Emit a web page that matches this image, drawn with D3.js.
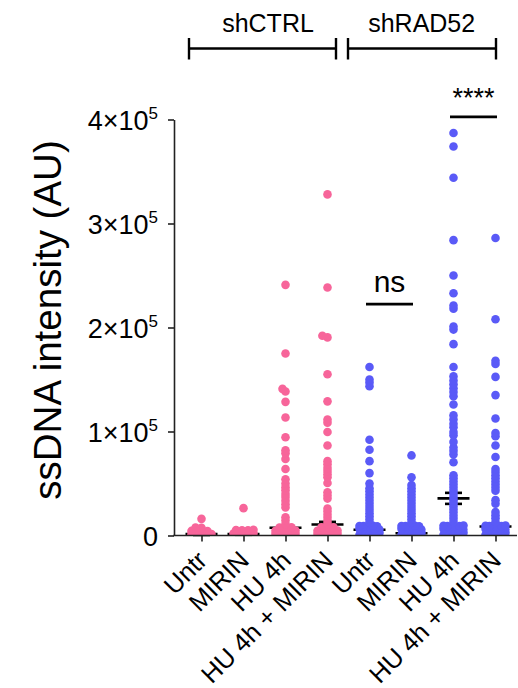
<!DOCTYPE html>
<html><head><meta charset="utf-8">
<script src="https://cdn.jsdelivr.net/npm/d3@7"></script>
<style>
body{margin:0;background:#fff}
svg{display:block}
text{font-family:"Liberation Sans",Arial,Helvetica,sans-serif;fill:#000}
</style>
</head><body>
<svg id="chart" width="518" height="688"></svg>
<script>
// ---------- data ----------
const categories = ["Untr","MIRIN","HU 4h","HU 4h + MIRIN","Untr","MIRIN","HU 4h","HU 4h + MIRIN"];
const groupNames = ["shCTRL","shRAD52"];
const groupOfCategory = [0,0,0,0,1,1,1,1];
const yTickValues = [0,100000,200000,300000,400000];
const yTickBase = ["0","1×10","2×10","3×10","4×10"];
const yTickExp  = ["","5","5","5","5"];
const yTitle = "ssDNA intensity (AU)";

// values in thousands (AU × 10^3)
const shCTRL_Untr_k = [16,7.6,7.3,4.4,4.2,4.0,3.8,1.4,1.2,1.0,0.8,0.6];
const shCTRL_MIRIN_k = [26.3,5.5,5.3,5.1,4.9,2.4,2.2,2.0,1.8,1.6,0.5,0.3];
const shCTRL_HU_k = [241,175,141,138.5,128.5,113.5,94.5,82,79,73.5,64,54,50,46.5,43.5,40,37,33.5,30,27,17.5,14.5,11,7.8,7.6,7.4,4.8,4.6,4.4,4.2,4.0,1.8,1.6,1.4,1.2,1.0];
const shCTRL_HU_MIRIN_k = [328,238.5,192,190.5,155,129,111.5,108.5,99.5,86.5,71.5,68.5,65,62,59,56,50.5,41.5,38.5,35.5,26,23,20,17,14,11,8,7.8,7.6,4.8,4.6,4.4,4.2,4.0,1.8,1.6,1.4,1.2,1.0];
const shRAD52_Untr_k = [162,150,147,143.5,92,82.5,71.5,60,50,45.5,42.5,39.5,36.5,33.5,30.5,27.5,24.5,21.5,18.5,15.5,12.5,9.4,9.2,9.0,8.8,8.6,6.4,6.2,6.0,5.8,5.6,3.4,3.2,3.0,2.8,2.6,0.8,0.6,0.4,0.2];
const shRAD52_MIRIN_k = [77,56,48.5,45.5,42.5,39.5,36.5,33.5,30.5,27.5,24.5,21.5,18.5,15.5,12.5,9.4,9.2,9.0,8.8,8.6,6.4,6.2,6.0,5.8,5.6,3.4,3.2,3.0,2.8,2.6,0.8,0.6,0.4,0.2];
const shRAD52_HU_k = [387,374,344,284,250,233,221,218,201,198,184,162,153,149,145.5,141.5,138,134,126,115.5,111.5,107.5,104,99.5,96.5,90,84.5,81.5,78,70.5,58,55,52,49,46,43,40,37,34,31,28,25,22,19,16,13,9.6,9.4,9.2,9.0,8.8,6.4,6.2,6.0,5.8,5.6,3.4,3.2,3.0,2.8,2.6,0.8,0.6,0.4,0.2];
const shRAD52_HU_MIRIN_k = [286,208,168,165,152.5,135,112.5,98.5,95.5,86.5,75.5,64,61,58,55,52,49,46,43,34,30.5,22.5,19.5,16.5,13,9.6,9.4,9.2,9.0,8.8,6.4,6.2,6.0,5.8,5.6,3.4,3.2,3.0,2.8,2.6,0.8,0.6,0.4,0.2];
const seriesValues_k = [shCTRL_Untr_k,shCTRL_MIRIN_k,shCTRL_HU_k,shCTRL_HU_MIRIN_k,shRAD52_Untr_k,shRAD52_MIRIN_k,shRAD52_HU_k,shRAD52_HU_MIRIN_k];

// summary line (centre) and error (k)
const centre_k = [1.5,1.5,7.4,10.6,5.5,2.2,35.7,8.7];
const error_k  = [1,0.8,1.5,2.5,1.2,0.8,5.3,2.5];

// significance annotations
const sigLabels = ["ns","****"];
const sigPairs = [[4,5],[6,7]];
const sigLevel_k = [222.5,402.5];

// ---------- layout ----------
const svg = d3.select("#chart");
const colors = ["#F7659A","#5A5AF7"];
const y = d3.scaleLinear().domain([0,400000]).range([535.5,119.5]);
const x = d3.scalePoint().domain(d3.range(categories.length)).range([201.5,495.5]);
const axisX0 = 174, axisX1 = 517;
const R = 4.3;

svg.append("defs").append("clipPath").attr("id","plotclip")
  .append("rect").attr("x",axisX0).attr("y",0).attr("width",518-axisX0).attr("height",y(0)-0.2);

// column-scatter placement (anisotropic collision)
function swarm(vals, Dx, Dy, maxW){
  const pts = vals.map(v=>({v, py:y(v*1000)})).sort((a,b)=>b.py-a.py);
  const placed=[];
  const dist=(q,c,p)=>Math.hypot((q.dx-c)/Dx,(q.py-p.py)/Dy);
  for(const p of pts){
    const cands=[0];
    for(const q of placed){
      const t=Math.abs(q.py-p.py)/Dy;
      if(t<1){const dx=Dx*Math.sqrt(1-t*t); cands.push(q.dx+dx,q.dx-dx);}
    }
    cands.sort((a,b)=>Math.abs(a)-Math.abs(b)||a-b);
    let best=null;
    for(const c of cands){
      if(Math.abs(c)>maxW+1e-9) continue;
      if(placed.every(q=>dist(q,c,p)>=1-1e-6)){best=c;break;}
    }
    if(best===null){
      let score=-1;
      for(let c=-maxW;c<=maxW+1e-9;c+=0.5){
        const m=d3.min(placed,q=>dist(q,c,p));
        if(m>score+1e-9){score=m;best=c;}
      }
    }
    p.dx=best; placed.push(p);
  }
  return placed;
}

// summary lines (under points)
const summ = svg.append("g").attr("stroke","#000").attr("stroke-width",2.6).attr("fill","none");
categories.forEach((c,i)=>{
  const cx=x(i), c0=centre_k[i]*1000, e=error_k[i]*1000;
  summ.append("line").attr("x1",cx).attr("x2",cx).attr("y1",y(c0-e)).attr("y2",y(c0+e));
  summ.append("line").attr("x1",cx-8.5).attr("x2",cx+8.5).attr("y1",y(c0-e)).attr("y2",y(c0-e));
  summ.append("line").attr("x1",cx-8.5).attr("x2",cx+8.5).attr("y1",y(c0+e)).attr("y2",y(c0+e));
  summ.append("line").attr("x1",cx-16).attr("x2",cx+16).attr("y1",y(c0)).attr("y2",y(c0));
});

// points
const ptsG = svg.append("g").attr("clip-path","url(#plotclip)");
seriesValues_k.forEach((vals,i)=>{
  const placed = swarm(vals,6,3,10);
  ptsG.selectAll(null).data(placed).enter().append("circle")
    .attr("cx",d=>x(i)+d.dx).attr("cy",d=>d.py).attr("r",R)
    .attr("fill",colors[groupOfCategory[i]]);
});

// y axis
const yAxis = svg.append("g").attr("transform",`translate(${axisX0},0)`)
  .call(d3.axisLeft(y).tickValues(yTickValues).tickSize(6).tickSizeOuter(0).tickPadding(10).tickFormat(()=>""));
yAxis.select(".domain").attr("stroke","#222").attr("stroke-width",1.6);
yAxis.selectAll(".tick line").attr("stroke","#222").attr("stroke-width",1.6);
yAxis.selectAll(".tick text").each(function(d,i){
  const t=d3.select(this).attr("font-size",27).attr("dy","0.36em").attr("font-family",null);
  t.text(null);
  t.append("tspan").text(yTickBase[i]);
  if(yTickExp[i]) t.append("tspan").attr("font-size",17).attr("dy","-0.62em").text(yTickExp[i]);
});

// x axis
const xAxis = svg.append("g").attr("transform",`translate(0,${y(0)})`)
  .call(d3.axisBottom(x).tickSize(6).tickSizeOuter(0).tickFormat(()=>""));
xAxis.select(".domain").remove();
xAxis.selectAll(".tick line").attr("stroke","#222").attr("stroke-width",1.6);
xAxis.append("line").attr("x1",axisX0-0.8).attr("x2",axisX1).attr("y1",0).attr("y2",0)
  .attr("stroke","#222").attr("stroke-width",1.6);
svg.append("g").selectAll("text").data(categories).enter().append("text")
  .attr("transform",(d,i)=>`translate(${x(i)+7},${y(0)+26.5}) rotate(-45)`)
  .attr("text-anchor","end").attr("font-size",25.5).text(d=>d);

// y title
svg.append("text").attr("transform","translate(61,320) rotate(-90)")
  .attr("text-anchor","middle").attr("font-size",38.5).text(yTitle);

// group brackets
const bracketOffsets = [[-12.5,8.5],[-21.5,0.5]];
const groupLabelCx = [268,421.7];
groupNames.forEach((g,gi)=>{
  const idx = d3.range(categories.length).filter(i=>groupOfCategory[i]===gi);
  const x0 = x(idx[0])+bracketOffsets[gi][0], x1 = x(idx[idx.length-1])+bracketOffsets[gi][1];
  const bg = svg.append("g").attr("stroke","#000").attr("stroke-width",2.4);
  bg.append("line").attr("x1",x0).attr("x2",x1).attr("y1",48.5).attr("y2",48.5);
  bg.append("line").attr("x1",x0).attr("x2",x0).attr("y1",38).attr("y2",59.5);
  bg.append("line").attr("x1",x1).attr("x2",x1).attr("y1",38).attr("y2",59.5);
  svg.append("text").attr("x",groupLabelCx[gi]).attr("y",31.5).attr("text-anchor","middle")
    .attr("font-size",25).text(g);
});

// significance
const sigExtra = [[-3.5,1.5],[-3.5,1.5]];
const sigFont = [30,27];
const sigGap = [12.5,10];
sigLabels.forEach((s,k)=>{
  const [a,b]=sigPairs[k];
  const x0=x(a)+sigExtra[k][0], x1=x(b)+sigExtra[k][1], ly=y(sigLevel_k[k]*1000);
  svg.append("line").attr("x1",x0).attr("x2",x1).attr("y1",ly).attr("y2",ly)
    .attr("stroke","#000").attr("stroke-width",2.6);
  svg.append("text").attr("x",(x0+x1)/2).attr("y",ly-sigGap[k]).attr("text-anchor","middle")
    .attr("font-size",sigFont[k]).text(s);
});
</script>
</body></html>
